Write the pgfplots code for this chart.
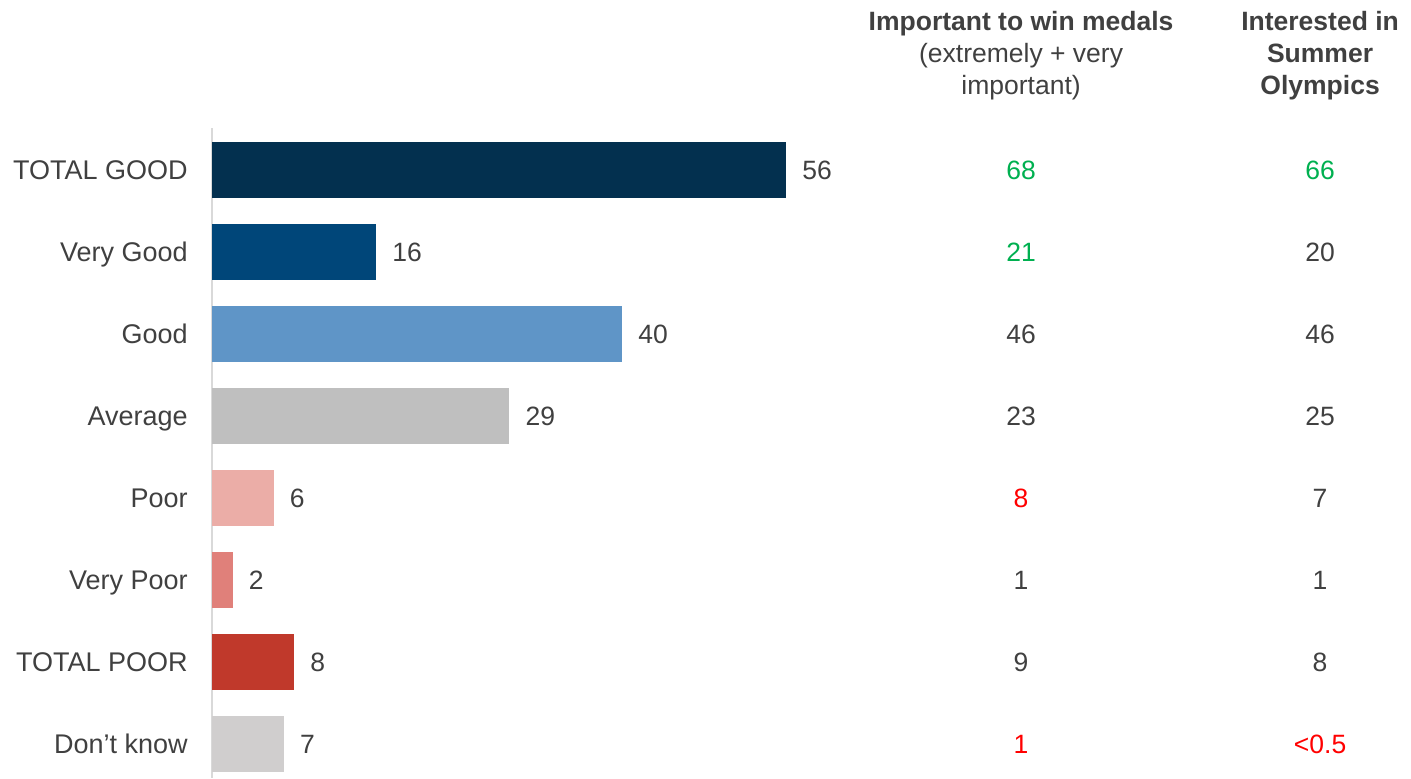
\documentclass[border=0pt]{standalone}
\usepackage{pgfplots}
\pgfplotsset{compat=1.18}
\usepackage{pgfplotstable}
\usepackage{fontspec}
\setmainfont{Liberation Sans}
\definecolor{txt}{HTML}{404040}
\definecolor{grn}{HTML}{00B050}
\definecolor{rd}{HTML}{FF0000}
\definecolor{c1}{HTML}{03304F}
\definecolor{c2}{HTML}{004679}
\definecolor{c3}{HTML}{5F95C7}
\definecolor{c4}{HTML}{BFBFBF}
\definecolor{c5}{HTML}{EBADA7}
\definecolor{c6}{HTML}{E0807A}
\definecolor{c7}{HTML}{C0392B}
\definecolor{c8}{HTML}{D0CECE}
\newcommand{\fs}{\fontsize{13.25}{16}\selectfont}
\newcommand{\fl}{\fontsize{13.5}{16}\selectfont}
\pgfplotstableread{
x y label
78.93 0 68
78.93 1 21
108.1 0 66
}\greencells
\pgfplotstableread{
x y label
108.1 1 20
78.93 2 46
108.1 2 46
78.93 3 23
108.1 3 25
108.1 4 7
78.93 5 1
108.1 5 1
78.93 6 9
108.1 6 8
}\graycells
\pgfplotstableread{
x y label
78.93 4 8
78.93 7 1
108.1 7 <0.5
}\redcells
\begin{document}
\begin{tikzpicture}
\begin{axis}[
  scale only axis, width=599.5pt, height=325pt,
  xmin=0, xmax=116.97, ymin=-0.512, ymax=7.415, y dir=reverse,
  hide x axis, axis y line*=left,
  y axis line style={draw=black!15, line width=1.2pt},
  ytick={0,...,7}, ytick style={draw=none}, major tick length=0pt,
  yticklabels={TOTAL GOOD, Very Good, Good, Average, Poor, Very Poor, TOTAL POOR, Don’t know},
  yticklabel style={font=\fl, text=txt, anchor=base east, inner sep=0pt, xshift=-12pt, yshift=-4.8pt},
  /pgf/number format/assume math mode=true,
  clip=false,
  mybar/.style={xbar, bar width=0.683, bar shift=0pt, draw=none, point meta=x,
    nodes near coords, nodes near coords style={font=\fs, text=txt, anchor=west, inner sep=0pt, xshift=8pt}},
  cells/.style={only marks, mark=none, nodes near coords, point meta=explicit symbolic,
    nodes near coords style={font=\fs, text=#1, anchor=center, inner sep=0pt}},
]
\addplot[mybar, fill=c1] coordinates {(56,0)};
\addplot[mybar, fill=c2] coordinates {(16,1)};
\addplot[mybar, fill=c3] coordinates {(40,2)};
\addplot[mybar, fill=c4] coordinates {(29,3)};
\addplot[mybar, fill=c5] coordinates {(6,4)};
\addplot[mybar, fill=c6] coordinates {(2,5)};
\addplot[mybar, fill=c7] coordinates {(8,6)};
\addplot[mybar, fill=c8] coordinates {(7,7)};
\addplot[cells=grn] table[x=x, y=y, meta=label] {\greencells};
\addplot[cells=txt] table[x=x, y=y, meta=label] {\graycells};
\addplot[cells=rd] table[x=x, y=y, meta=label] {\redcells};
\node[font=\fs, text=txt, align=center, inner sep=0pt] at (axis cs:78.93,-1.40)
  {\textbf{Important to win medals}\\(extremely + very\\important)};
\node[font=\fs\bfseries, text=txt, align=center, inner sep=0pt] at (axis cs:108.1,-1.40)
  {Interested in\\Summer\\Olympics};
\end{axis}
\pgfresetboundingbox
\path[use as bounding box] ([xshift=-106pt]current axis.south west) rectangle ++(705.5pt,389pt);
\end{tikzpicture}
\end{document}
